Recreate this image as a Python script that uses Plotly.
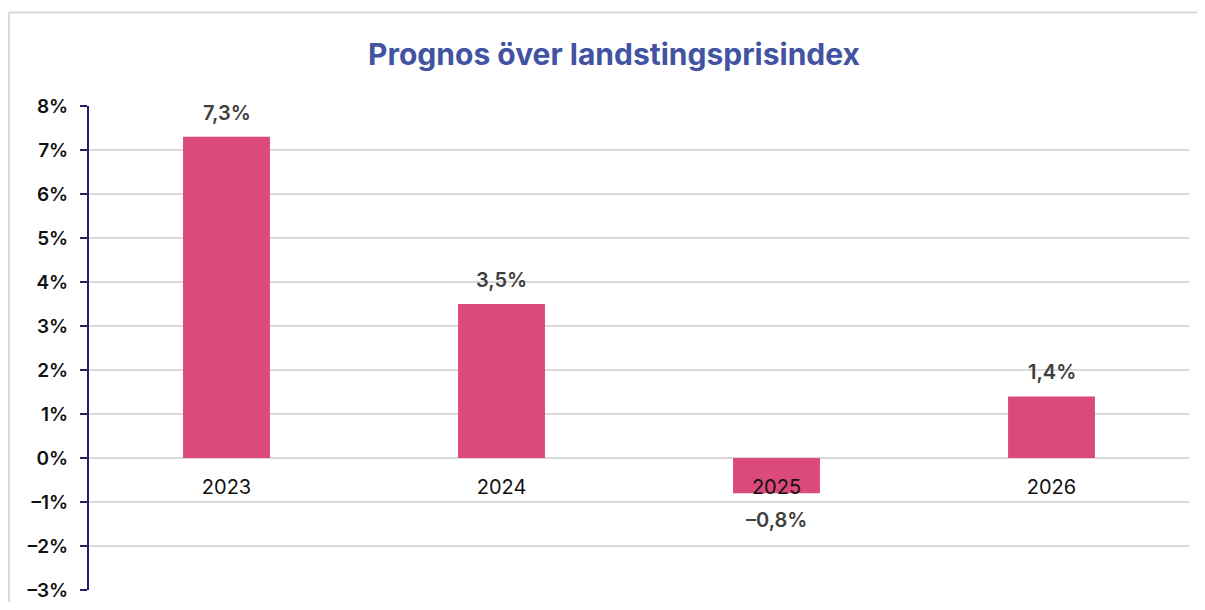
import plotly.graph_objects as go

years = ["2023", "2024", "2025", "2026"]
values = [7.3, 3.5, -0.8, 1.4]
value_labels = ["7,3%", "3,5%", "–0,8%", "1,4%"]
tick_vals = [8, 7, 6, 5, 4, 3, 2, 1, 0, -1, -2, -3]
tick_text = ["8%", "7%", "6%", "5%", "4%", "3%", "2%", "1%", "0%", "–1%", "–2%", "–3%"]

OFF = 8  # page body margin
W, H = 1205 - 2 * OFF, 610 - 2 * OFF
L, T = 89 - OFF, 106 - OFF
R = (OFF + W) - 1189
B = H - (590 - OFF)
plot_w = W - L - R
plot_h = H - T - B
ymin, ymax = -3, 8
FONT = "Inter"

fig = go.Figure()
fig.add_trace(go.Bar(
    x=years, y=values,
    marker=dict(color="#DC497D", line=dict(width=0)),
    width=0.316,
    hoverinfo="skip",
))

for i, (v, lab) in enumerate(zip(values, value_labels)):
    fig.add_annotation(
        x=i, y=v, xref="x", yref="y", text=lab, showarrow=False,
        yshift=24 if v >= 0 else -27,
        font=dict(family=FONT, size=20, color="#404040", weight=600),
        xanchor="center", yanchor="middle",
    )

# outer frame: left and top edges only (the rest is outside the picture)
fx0 = (9 - OFF - L) / plot_w
fx1 = (W - L) / plot_w
fy1 = (H - B - (12.5 - OFF)) / plot_h
fy0 = -(B) / plot_h
frame = dict(color="#D9D9D9", width=2)
fig.add_shape(type="line", xref="paper", yref="paper", x0=fx0, x1=fx0, y0=fy0, y1=fy1, line=frame, layer="below")
fig.add_shape(type="line", xref="paper", yref="paper", x0=fx0, x1=fx1, y0=fy1, y1=fy1, line=frame, layer="below")

fig.update_layout(
    width=W, height=H,
    margin=dict(l=L, r=R, t=T, b=B, pad=0, autoexpand=False),
    paper_bgcolor="white", plot_bgcolor="white",
    showlegend=False,
    title=dict(
        text="Prognos över landstingsprisindex",
        x=(614 - OFF) / W, xanchor="center", y=1 - (54 - OFF) / H, yanchor="middle",
        font=dict(family=FONT, size=30, color="#4253A2", weight=700),
    ),
    xaxis=dict(
        type="category",
        range=[-0.5, 3.5],
        showline=False, showgrid=False, zeroline=False,
        ticks="", anchor="free",
        position=(0 - ymin) / (ymax - ymin),
        tickfont=dict(family=FONT, size=20, color="#111111"),
        ticklabelstandoff=15,
        automargin=False,
    ),
    yaxis=dict(
        range=[ymin, ymax],
        tickvals=tick_vals, ticktext=tick_text,
        showgrid=True, gridcolor="#D9D9D9", gridwidth=2,
        zeroline=False,
        showline=True, linecolor="#221F6E", linewidth=2,
        ticks="outside", ticklen=7, tickwidth=2, tickcolor="#221F6E",
        tickfont=dict(family=FONT, size=19, color="#111111", weight=600),
        ticklabelstandoff=8,
        automargin=False,
    ),
)

fig.write_html("out.html")
